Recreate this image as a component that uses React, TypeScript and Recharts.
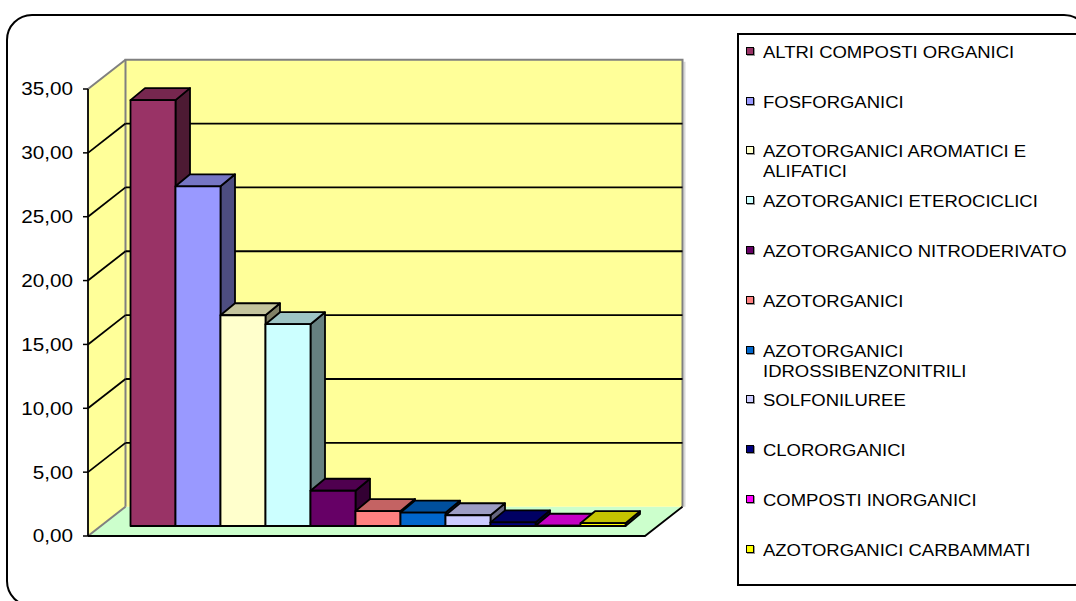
import React from 'react'
import { BarChart, Bar, XAxis, YAxis, CartesianGrid } from 'recharts'

const seriesNames = [
  'ALTRI COMPOSTI ORGANICI',
  'FOSFORGANICI',
  'AZOTORGANICI AROMATICI E\nALIFATICI',
  'AZOTORGANICI ETEROCICLICI',
  'AZOTORGANICO NITRODERIVATO',
  'AZOTORGANICI',
  'AZOTORGANICI\nIDROSSIBENZONITRILI',
  'SOLFONILUREE',
  'CLORORGANICI',
  'COMPOSTI INORGANICI',
  'AZOTORGANICI CARBAMMATI',
]
const seriesValues = [33.35, 26.6, 16.5, 15.8, 2.76, 1.17, 1.05, 0.84, 0.28, 0.02, 0.22]
const seriesColors = [
  '#993366', '#9999FF', '#FFFFCC', '#CCFFFF', '#660066', '#FF8080',
  '#0066CC', '#CCCCFF', '#000080', '#FF00FF', '#FFFF00',
]
const yTicks = [0, 5, 10, 15, 20, 25, 30, 35]

const data = [
  seriesValues.reduce<Record<string, any>>((row, v, i) => {
    row[`s${i}`] = v
    return row
  }, { name: 'totale' }),
]

// depth offsets: back wall, and bars (front face position + box depth)
const WALL_DX = 37.5
const WALL_DY = -29.3
const BAR_DX = 12.5
const BAR_DY = -10
const BOX_DX = 14.5
const BOX_DY = -12

const FONT = '"Liberation Sans", Arial, sans-serif'

function shade(hex: string, f: number) {
  const n = parseInt(hex.slice(1), 16)
  const r = Math.round(((n >> 16) & 255) * f)
  const g = Math.round(((n >> 8) & 255) * f)
  const b = Math.round((n & 255) * f)
  return `rgb(${r},${g},${b})`
}

const fmt = (v: number) => v.toFixed(2).replace('.', ',')

function Box3D(props: any) {
  const { x, y, width, height, color } = props
  if (x == null || y == null) return null
  const fx = x + BAR_DX
  const fy = y + BAR_DY
  const w = width
  const h = Math.max(height, 0)
  const top = `${fx},${fy} ${fx + w},${fy} ${fx + w + BOX_DX},${fy + BOX_DY} ${fx + BOX_DX},${fy + BOX_DY}`
  const side = `${fx + w},${fy} ${fx + w + BOX_DX},${fy + BOX_DY} ${fx + w + BOX_DX},${fy + h + BOX_DY} ${fx + w},${fy + h}`
  return (
    <g stroke="#000" strokeWidth={1.8} strokeLinejoin="round">
      <polygon points={side} fill={shade(color, 0.5)} />
      <polygon points={top} fill={shade(color, 0.77)} />
      <rect x={fx} y={fy} width={w} height={h} fill={color} />
    </g>
  )
}

function GridLine(p: any) {
  const { x1, x2, y1, index, x, y, width, height } = p
  const T = y
  const B = y + height
  const L = x
  const R = x + width
  const isEdge = Math.abs(y1 - T) < 0.5 || Math.abs(y1 - B) < 0.5
  return (
    <g key={`g-${index}`}>
      {index === 0 && (
        <g>
          <polygon
            points={`${L},${B} ${R},${B} ${R + WALL_DX},${B + WALL_DY} ${L + WALL_DX},${B + WALL_DY}`}
            fill="#CCFFCC"
          />
          <polygon
            points={`${L},${T} ${L + WALL_DX},${T + WALL_DY} ${L + WALL_DX},${B + WALL_DY} ${L},${B}`}
            fill="#FFFF99"
          />
          <rect x={L + WALL_DX} y={T + WALL_DY} width={width} height={height} fill="#FFFF99" />
          <line x1={R + WALL_DX + 2} y1={T + WALL_DY + 2} x2={R + WALL_DX + 2} y2={B + WALL_DY} stroke="#d8d8d8" strokeWidth={2} />
          <polyline
            points={`${L + WALL_DX},${B + WALL_DY} ${L + WALL_DX},${T + WALL_DY} ${R + WALL_DX},${T + WALL_DY} ${R + WALL_DX},${B + WALL_DY}`}
            fill="none"
            stroke="#808080"
            strokeWidth={2}
          />
          <line x1={L} y1={T} x2={L + WALL_DX} y2={T + WALL_DY} stroke="#808080" strokeWidth={2} />
          <line x1={L} y1={B} x2={L + WALL_DX} y2={B + WALL_DY} stroke="#808080" strokeWidth={2} />
          <polyline
            points={`${L},${B} ${R},${B} ${R + WALL_DX},${B + WALL_DY}`}
            fill="none"
            stroke="#000"
            strokeWidth={1.8}
          />
        </g>
      )}
      {!isEdge && (
        <g stroke="#000" strokeWidth={1.8} fill="none">
          <line x1={x1} y1={y1} x2={x1 + WALL_DX} y2={y1 + WALL_DY} />
          <line x1={x1 + WALL_DX} y1={y1 + WALL_DY} x2={x2 + WALL_DX} y2={y1 + WALL_DY} />
        </g>
      )}
    </g>
  )
}

function YTick(props: any) {
  const { x, y, payload } = props
  return (
    <text
      x={x}
      y={y}
      dy={6.5}
      textAnchor="end"
      fontSize={18}
      fontFamily={FONT}
      fill="#000"
      transform={`translate(${x} 0) scale(1.15 1) translate(${-x} 0)`}
    >
      {fmt(payload.value)}
    </text>
  )
}

function LegendBox() {
  return (
    <div
      style={{
        position: 'absolute',
        left: 737,
        top: 33,
        width: 400,
        height: 549,
        border: '2px solid #000',
        background: '#fff',
      }}
    >
      {seriesNames.map((name, i) => {
        const capTop = 46.7 + i * 49.8 - 35
        return (
          <div key={name} style={{ position: 'absolute', left: 0, top: capTop, width: 400 }}>
            <div
              style={{
                position: 'absolute',
                left: 7,
                top: 0,
                width: 6,
                height: 6,
                border: '1px solid #000',
                background: seriesColors[i],
                boxShadow: '1px 1px 0 #999',
              }}
            />
            <div
              style={{
                position: 'absolute',
                left: 24,
                top: -4,
                fontFamily: FONT,
                fontSize: 16,
                lineHeight: '20px',
                color: '#000',
                whiteSpace: 'pre',
                transform: 'scaleX(1.155)',
                transformOrigin: 'left top',
              }}
            >
              {name}
            </div>
          </div>
        )
      })}
    </div>
  )
}

export default function App() {
  return (
    <div
      style={{
        position: 'absolute',
        left: 0,
        top: 0,
        width: 1076,
        height: 601,
        overflow: 'hidden',
        background: '#fff',
      }}
    >
      <div
        style={{
          position: 'absolute',
          left: 6,
          top: 14,
          width: 1080,
          height: 589,
          border: '2px solid #000',
          borderRadius: 26,
        }}
      />
      <div style={{ position: 'absolute', left: 0, top: 0 }}>
        <BarChart
          width={1076}
          height={601}
          data={data}
          margin={{ top: 89, right: 431, bottom: 65, left: 28 }}
          barGap={0}
          barCategoryGap={30}
        >
          <CartesianGrid vertical={false} horizontal={GridLine as any} />
          <XAxis dataKey="name" hide />
          <YAxis
            width={60}
            domain={[0, 35]}
            ticks={yTicks}
            interval={0}
            tick={<YTick />}
            tickSize={5}
            tickMargin={10}
            axisLine={{ stroke: '#000', strokeWidth: 1.8 }}
            tickLine={{ stroke: '#000', strokeWidth: 1.5 }}
          />
          {seriesValues.map((_, i) => (
            <Bar
              key={i}
              dataKey={`s${i}`}
              name={seriesNames[i]}
              fill={seriesColors[i]}
              isAnimationActive={false}
              shape={(p: any) => <Box3D {...p} color={seriesColors[i]} />}
            />
          ))}
        </BarChart>
      </div>
      <LegendBox />
    </div>
  )
}
